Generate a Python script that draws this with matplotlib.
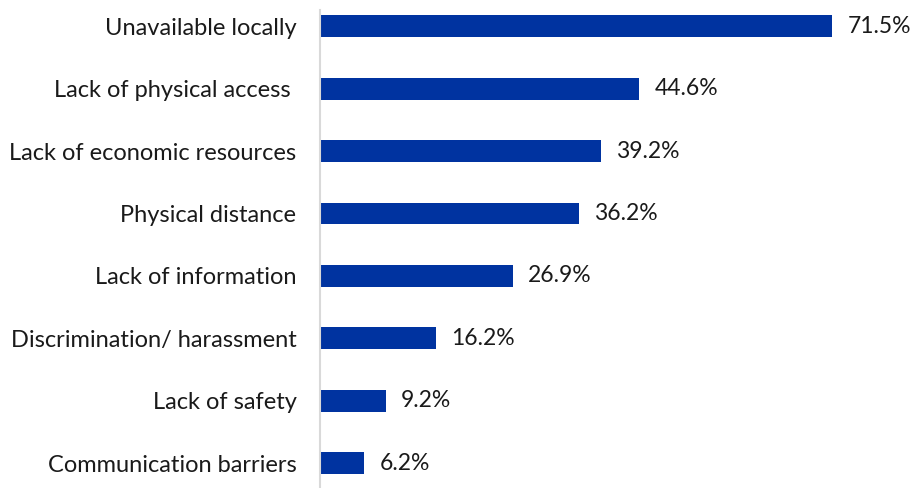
import matplotlib.pyplot as plt

# Data
categories = ['Unavailable locally', 'Lack of physical access ', 'Lack of economic resources',
              'Physical distance', 'Lack of information', 'Discrimination/ harassment',
              'Lack of safety', 'Communication barriers']
values = [71.5, 44.6, 39.2, 36.2, 26.9, 16.2, 9.2, 6.2]

plt.rcParams['font.family'] = ['Lato', 'DejaVu Sans']

fig = plt.figure(figsize=(9.14, 4.88), dpi=100)
ax = fig.add_axes([320 / 914, 0, 560 / 914, 1 - 10 / 488])

y = list(range(len(categories)))
ax.barh(y, values, height=0.35, color='#0033A0')

for yi, v in zip(y, values):
    ax.annotate(f'{v:.1f}%', (v, yi), xytext=(11, 0), textcoords='offset points',
                ha='left', va='center', fontsize=16.5, color='#1a1a1a')

ax.set_xlim(0, 78.2)
ax.set_ylim(7.4, -0.26)
ax.set_yticks(y)
ax.set_yticklabels(categories, fontsize=17, color='#1a1a1a')
ax.tick_params(axis='y', length=0, pad=17)
ax.set_xticks([])

for s in ['top', 'right', 'bottom']:
    ax.spines[s].set_visible(False)
ax.spines['left'].set_color('#d9d9d9')
ax.spines['left'].set_linewidth(1.5)

fig.savefig('out.png', dpi=100)
